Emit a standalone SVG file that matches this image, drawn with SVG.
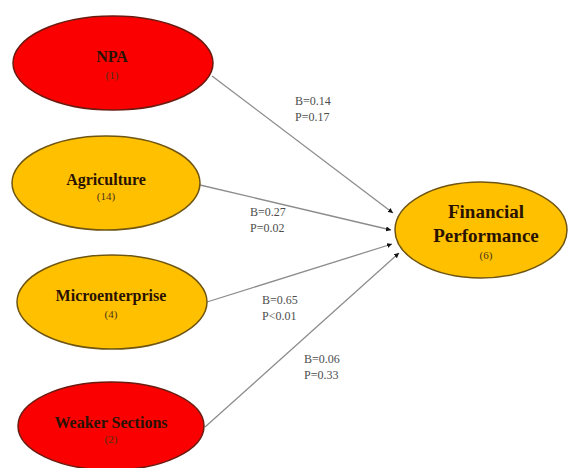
<svg xmlns="http://www.w3.org/2000/svg" width="568" height="468" viewBox="0 0 568 468">
<defs>
<style>
.red{fill:#fb0000;stroke:#6b1a10;stroke-width:1.5}
.org{fill:#ffc000;stroke:#6e5512;stroke-width:1.5}
.t{font-family:"Liberation Serif","Times New Roman",serif;font-weight:bold;font-size:16px;fill:#2a1200;text-anchor:middle}
.tb{font-size:19px}
.n{font-family:"Liberation Serif","Times New Roman",serif;font-size:11px;fill:#4a3418;text-anchor:middle}
.lbl{font-family:"Liberation Serif","Times New Roman",serif;font-size:12px;fill:#4d4d4d}
.c{stroke:#8c8c8c;stroke-width:1.3;fill:none;marker-end:url(#ah)}
</style>
<marker id="ah" viewBox="0 0 10 10" refX="10" refY="5" markerWidth="5" markerHeight="5" markerUnits="userSpaceOnUse" orient="auto">
<path d="M0,0 L10,5 L0,10 z" fill="#111"/>
</marker>
</defs>
<rect width="568" height="468" fill="#fff"/>
<g id="connectors">
<line class="c" x1="212" y1="76" x2="393" y2="213"/>
<line class="c" x1="200" y1="185" x2="391" y2="230"/>
<line class="c" x1="207" y1="302" x2="392" y2="244"/>
<line class="c" x1="205" y1="427" x2="399" y2="253"/>
<text class="lbl" x="295" y="105">B=0.14</text>
<text class="lbl" x="295" y="121">P=0.17</text>
<text class="lbl" x="250" y="216">B=0.27</text>
<text class="lbl" x="250" y="232">P=0.02</text>
<text class="lbl" x="262" y="304">B=0.65</text>
<text class="lbl" x="262" y="320">P&lt;0.01</text>
<text class="lbl" x="304" y="363">B=0.06</text>
<text class="lbl" x="304" y="379">P=0.33</text>
</g>
<g id="npa">
<ellipse class="red" cx="113" cy="63" rx="100" ry="47"/>
<text class="t" x="112" y="62">NPA</text>
<text class="n" x="112" y="79">(1)</text>
</g>
<g id="agriculture">
<ellipse class="org" cx="106" cy="183" rx="94" ry="47"/>
<text class="t" x="106" y="185">Agriculture</text>
<text class="n" x="106" y="200">(14)</text>
</g>
<g id="microenterprise">
<ellipse class="org" cx="112" cy="302" rx="95" ry="47"/>
<text class="t" x="111" y="301">Microenterprise</text>
<text class="n" x="111" y="318">(4)</text>
</g>
<g id="weaker">
<ellipse class="red" cx="111" cy="426" rx="93" ry="44"/>
<text class="t" x="111" y="428">Weaker Sections</text>
<text class="n" x="111" y="443">(2)</text>
</g>
<g id="financial">
<ellipse class="org" cx="481" cy="230" rx="86" ry="48"/>
<text class="t tb" x="486" y="218">Financial</text>
<text class="t tb" x="486" y="242">Performance</text>
<text class="n" x="486" y="259">(6)</text>
</g>
</svg>
